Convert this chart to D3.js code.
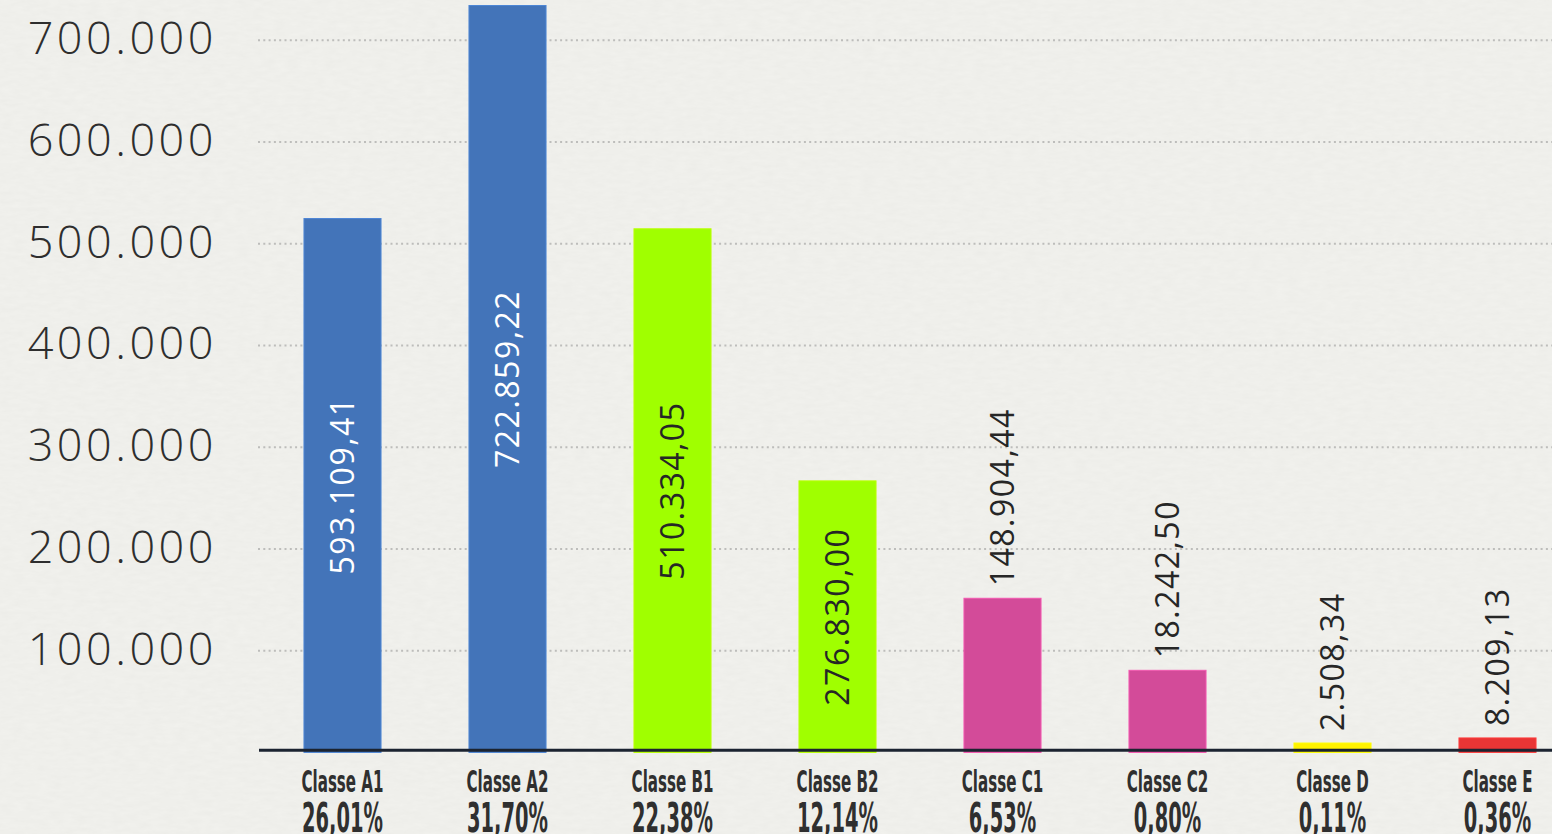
<!DOCTYPE html>
<html>
<head>
  <meta charset="utf-8">
  <title>Classes</title>
  <script src="https://d3js.org/d3.v7.min.js"></script>
  <style>
    body { margin: 0; background: #f1f1ed; overflow: hidden; }
    .tick-label { font-family: "Open Sans", sans-serif; font-weight: 300; font-size: 45px; letter-spacing: 3.5px; fill: #2e2e2e; }
    .value { font-family: "Open Sans", sans-serif; font-weight: 500; font-size: 32px; letter-spacing: 1.5px; }
    .cat { font-family: "Liberation Sans Narrow", "DejaVu Sans Condensed", sans-serif; font-weight: bold; fill: #2f2f2f; }
  </style>
</head>
<body>
<script>
  // data
  const categories = ["Classe A1", "Classe A2", "Classe B1", "Classe B2", "Classe C1", "Classe C2", "Classe D", "Classe E"];
  const percents   = ["26,01%", "31,70%", "22,38%", "12,14%", "6,53%", "0,80%", "0,11%", "0,36%"];
  const labels     = ["593.109,41", "722.859,22", "510.334,05", "276.830,00", "148.904,44", "18.242,50", "2.508,34", "8.209,13"];
  // bar heights as drawn (they don't match the printed labels)
  const heights    = [524800, 734200, 514700, 266900, 151500, 80700, 9200, 14200];
  const colors     = ["#4374b9", "#4374b9", "#a0ff00", "#a0ff00", "#d34b99", "#d34b99", "#fff200", "#e83535"];
  const inside     = [true, true, true, true, false, false, false, false];
  const yTicks     = [100000, 200000, 300000, 400000, 500000, 600000, 700000];

  const W = 1552, H = 834;
  const svg = d3.select("body").append("svg").attr("width", W).attr("height", H);

  // paper texture
  const defs = svg.append("defs");
  const f = defs.append("filter").attr("id", "paper").attr("x", 0).attr("y", 0).attr("width", "100%").attr("height", "100%");
  f.append("feTurbulence").attr("type", "fractalNoise").attr("baseFrequency", "0.08 0.25").attr("numOctaves", 3).attr("seed", 4);
  f.append("feColorMatrix").attr("type", "matrix")
    .attr("values", "0 0 0 0 0.55  0 0 0 0 0.55  0 0 0 0 0.52  0 0 0 0.13 0");
  svg.append("rect").attr("width", W).attr("height", H).attr("fill", "#f2f2ee");
  svg.append("rect").attr("width", W).attr("height", H).attr("filter", "url(#paper)");

  const x = d3.scaleBand()
    .domain(categories)
    .range([260, 1580])
    .paddingInner(0.533)
    .paddingOuter(0.2665);

  const y = d3.scaleLinear()
    .domain([0, 700000])
    .range([752.4, 40.3]);

  const fmt = d3.formatLocale({decimal: ",", thousands: ".", grouping: [3]}).format(",");

  // grid
  svg.append("g")
    .selectAll("line")
    .data(yTicks)
    .join("line")
      .attr("x1", 258).attr("x2", W)
      .attr("y1", d => y(d)).attr("y2", d => y(d))
      .attr("stroke", "#bdbdbb")
      .attr("stroke-width", 2)
      .attr("stroke-dasharray", "2,3.3");

  svg.append("g")
    .selectAll("text")
    .data(yTicks)
    .join("text")
      .attr("class", "tick-label")
      .attr("x", 217)
      .attr("y", d => y(d) + 14)
      .attr("text-anchor", "end")
      .text(d => fmt(d));

  // bars
  svg.append("g")
    .selectAll("rect")
    .data(categories)
    .join("rect")
      .attr("x", d => x(d))
      .attr("width", x.bandwidth())
      .attr("y", (d, i) => y(heights[i]))
      .attr("height", (d, i) => y(0) - y(heights[i]))
      .attr("fill", (d, i) => colors[i])
      .attr("stroke", (d, i) => d3.color(colors[i]).brighter(0.4))
      .attr("stroke-width", 1);

  // axis line
  svg.append("line")
    .attr("x1", 259).attr("x2", W)
    .attr("y1", 750.3).attr("y2", 750.3)
    .attr("stroke", "#1b2330")
    .attr("stroke-width", 3);

  // value labels, rotated
  svg.append("g")
    .selectAll("text")
    .data(categories)
    .join("text")
      .attr("class", "value")
      .attr("transform", (d, i) => {
        const cx = x(d) + x.bandwidth() / 2;
        const cy = inside[i] ? (y(heights[i]) + y(0)) / 2 : y(heights[i]) - 12;
        return `translate(${cx},${cy}) rotate(-90)`;
      })
      .attr("text-anchor", (d, i) => inside[i] ? "middle" : "start")
      .attr("dy", "0.36em")
      .attr("fill", (d, i) => i < 2 ? "#ffffff" : "#262626")
      .text((d, i) => labels[i]);

  // category + percent labels
  const cat = svg.append("g")
    .selectAll("g")
    .data(categories)
    .join("g")
      .attr("transform", d => `translate(${x(d) + x.bandwidth() / 2},0)`);

  cat.append("text")
    .attr("class", "cat")
    .attr("transform", "translate(0,791.7) scale(0.55,1)")
    .attr("text-anchor", "middle")
    .style("font-size", "30.5px")
    .text(d => d);

  cat.append("text")
    .attr("class", "cat")
    .attr("transform", "translate(0,831.7) scale(0.54,1)")
    .attr("text-anchor", "middle")
    .style("font-size", "40px")
    .text((d, i) => percents[i]);
</script>
</body>
</html>
